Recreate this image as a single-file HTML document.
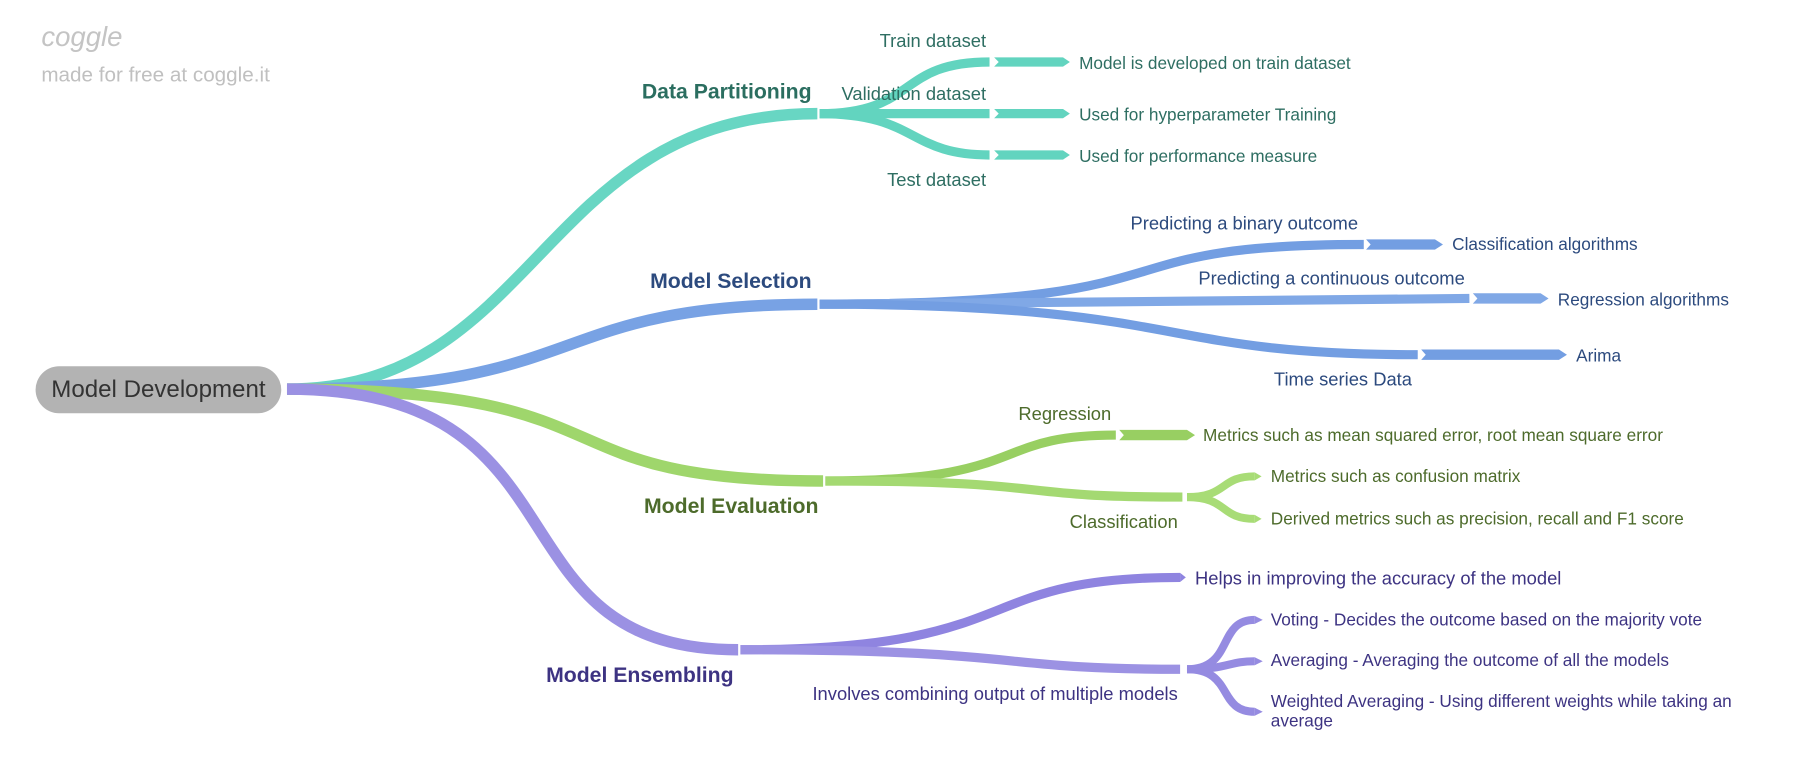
<!DOCTYPE html>
<html><head><meta charset="utf-8"><style>
html,body{margin:0;padding:0;background:#fff;}
svg{display:block;}
text{font-family:"Liberation Sans",sans-serif;}
</style></head><body>
<svg width="1800" height="779" viewBox="0 0 1568 678.6" preserveAspectRatio="none" xmlns="http://www.w3.org/2000/svg">
<g fill="none" stroke-linecap="butt">
<!-- Data Partitioning -->
<path d="M250,339 C470,339 470,99 712,99" stroke="#68d6c3" stroke-width="10"/>
<path d="M714,99 C800,99 780,54 862,54" stroke="#62d4bf" stroke-width="8"/>
<path d="M714,99 L862,99" stroke="#62d4bf" stroke-width="8"/>
<path d="M714,99 C800,99 790,135 862,135" stroke="#62d4bf" stroke-width="8"/>
<!-- Model Selection -->
<path d="M250,339 C520,339 470,265 712,265" stroke="#78a2e4" stroke-width="10"/>
<path d="M714,265 C1060,265 940,213 1188,213" stroke="#739ee2" stroke-width="8"/>
<path d="M714,265 C900,265 1100,260 1280,260" stroke="#80a8e6" stroke-width="8"/>
<path d="M714,265 C1040,265 1000,309 1235,309" stroke="#739ee2" stroke-width="8"/>
<!-- Model Evaluation -->
<path d="M250,339 C560,339 460,419 717,419" stroke="#9fd66c" stroke-width="10"/>
<path d="M719,419 C900,419 860,379 972,379" stroke="#98cf62" stroke-width="8"/>
<path d="M719,419 C930,419 870,433 1030,433" stroke="#a4d972" stroke-width="8"/>
<path d="M1034,433 C1070,433 1062,415 1093,415" stroke="#a8dc76" stroke-width="7"/>
<path d="M1034,433 C1070,433 1062,452 1093,452" stroke="#a8dc76" stroke-width="7"/>
<!-- Model Ensembling -->
<path d="M250,339 C520,339 420,566 643,566" stroke="#9b91e3" stroke-width="10"/>
<path d="M645,566 C900,566 840,503 1028,503" stroke="#8f84e0" stroke-width="8"/>
<path d="M645,566 C900,566 860,583 1028,583" stroke="#9c92e3" stroke-width="8"/>
<path d="M1034,583 C1075,583 1060,540 1093,540" stroke="#958be1" stroke-width="7"/>
<path d="M1034,583 C1070,583 1070,576 1093,576" stroke="#958be1" stroke-width="7"/>
<path d="M1034,583 C1075,583 1060,620 1093,620" stroke="#958be1" stroke-width="7"/>
</g>
<!-- arrow segments -->
<g fill="#62d4bf">
<polygon points="866,50 926,50 932,54 926,58 866,58 870,54"/>
<polygon points="866,95 926,95 932,99 926,103 866,103 870,99"/>
<polygon points="866,131 926,131 932,135 926,139 866,139 870,135"/>
</g>
<g fill="#739ee2">
<polygon points="1190,208.5 1250,208.5 1257,213 1250,217.5 1190,217.5 1194,213"/>
<polygon points="1283,255.5 1342,255.5 1349,260 1342,264.5 1283,264.5 1287,260" fill="#80a8e6"/>
<polygon points="1238,304.5 1358,304.5 1365,309 1358,313.5 1238,313.5 1242,309"/>
</g>
<polygon points="975,374.5 1034,374.5 1041,379 1034,383.5 975,383.5 979,379" fill="#98cf62"/>
<polygon points="1028,499 1033,503 1028,507" fill="#8f84e0"/>
<polygon points="1093,411.5 1099,415 1093,418.5" fill="#a8dc76"/>
<polygon points="1093,448.5 1099,452 1093,455.5" fill="#a8dc76"/>
<polygon points="1093,536.5 1100,540 1093,543.5" fill="#958be1"/>
<polygon points="1093,572.5 1100,576 1093,579.5" fill="#958be1"/>
<polygon points="1093,616.5 1100,620 1093,623.5" fill="#958be1"/>
<!-- root -->
<rect x="31" y="319" width="214" height="41" rx="20.5" fill="#b3b3b3"/>
<text x="138" y="346" font-size="21" fill="#333" text-anchor="middle">Model Development</text>
<!-- logo -->
<text x="36" y="40" font-size="24" fill="#c4c4c4" font-style="italic" font-family="Liberation Serif,serif">coggle</text>
<text x="36" y="71" font-size="18" fill="#c0c0c0">made for free at coggle.it</text>
<!-- headings -->
<g font-weight="bold" font-size="18.5" text-anchor="end">
<text x="707" y="86" fill="#2b6e60">Data Partitioning</text>
<text x="707" y="251" fill="#2c4a7e">Model Selection</text>
<text x="713" y="447" fill="#4d6b2b">Model Evaluation</text>
<text x="639" y="594" fill="#3d3382">Model Ensembling</text>
</g>
<!-- sub labels -->
<g font-size="16" text-anchor="end">
<text x="859" y="41" fill="#2e6e62">Train dataset</text>
<text x="859" y="87" fill="#2e6e62">Validation dataset</text>
<text x="859" y="162" fill="#2e6e62">Test dataset</text>
<text x="1183" y="200" fill="#2c4a7e">Predicting a binary outcome</text>
<text x="1276" y="248" fill="#2c4a7e">Predicting a continuous outcome</text>
<text x="1230" y="336" fill="#2c4a7e">Time series Data</text>
<text x="968" y="366" fill="#4d6b2b">Regression</text>
<text x="1026" y="460" fill="#4d6b2b">Classification</text>
<text x="1026" y="610" fill="#3d3382">Involves combining output of multiple models</text>
</g>
<!-- leaves -->
<g font-size="15">
<text x="940" y="60" fill="#2e6e62">Model is developed on train dataset</text>
<text x="940" y="105" fill="#2e6e62">Used for hyperparameter Training</text>
<text x="940" y="141" fill="#2e6e62">Used for performance measure</text>
<text x="1265" y="218" fill="#2c4a7e">Classification algorithms</text>
<text x="1357" y="266" fill="#2c4a7e">Regression algorithms</text>
<text x="1373" y="315" fill="#2c4a7e">Arima</text>
<text x="1048" y="384" fill="#4d6b2b">Metrics such as mean squared error, root mean square error</text>
<text x="1107" y="420" fill="#4d6b2b">Metrics such as confusion matrix</text>
<text x="1107" y="457" fill="#4d6b2b">Derived metrics such as precision, recall and F1 score</text>
<text x="1041" y="509" font-size="16" fill="#3d3382">Helps in improving the accuracy of the model</text>
<text x="1107" y="545" fill="#3d3382">Voting - Decides the outcome based on the majority vote</text>
<text x="1107" y="580" fill="#3d3382">Averaging - Averaging the outcome of all the models</text>
<text x="1107" y="616" fill="#3d3382">Weighted Averaging - Using different weights while taking an</text>
<text x="1107" y="633" fill="#3d3382">average</text>
</g>
</svg>
</body></html>
